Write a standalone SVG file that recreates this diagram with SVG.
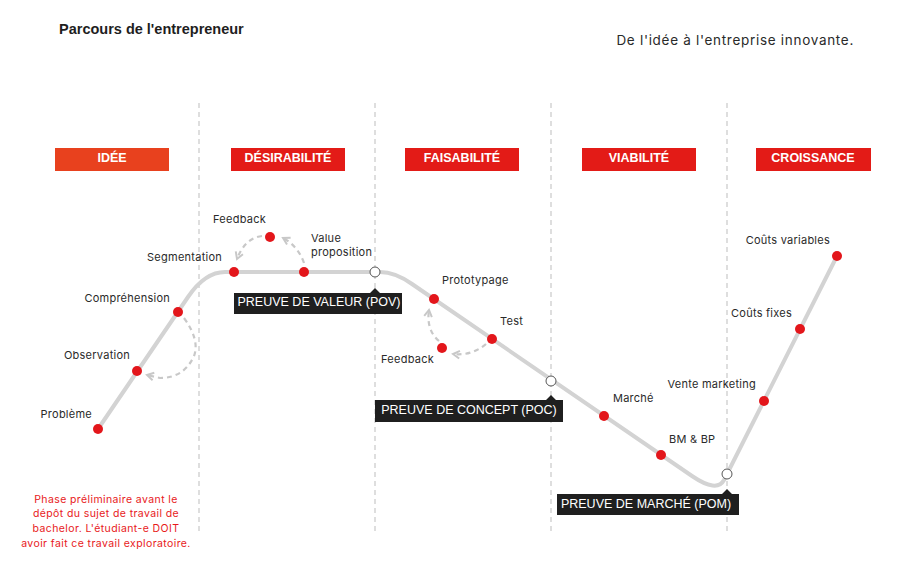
<svg xmlns="http://www.w3.org/2000/svg" width="904" height="564" viewBox="0 0 904 564">
<style>
text{font-family:"Liberation Sans",Arial,sans-serif;}
.sep{stroke:#BDBDBD;stroke-width:1;stroke-dasharray:5 4;fill:none}
.hdr{fill:#E31B17}
.hdrt{fill:#fff;font-size:12.5px;font-weight:bold;text-anchor:middle}
.track{stroke:#D3D3D3;stroke-width:4;fill:none;stroke-linecap:round;stroke-linejoin:round}
.loop{stroke:#C8C8C8;stroke-width:2.2;stroke-dasharray:5 4;fill:none}
.dot{fill:#E3161B}
.ms{fill:#fff;stroke:#555;stroke-width:1}
.lbl{fill:#2A2A2A;font-size:11px;letter-spacing:0.25px;font-family:Inter,"Liberation Sans",sans-serif}
.tag{fill:#1F1F1F}
.tagt{fill:#fff;font-size:12.5px;text-anchor:middle}
.note{fill:#E8191B;font-size:10.5px;letter-spacing:0.4px;text-anchor:middle;font-family:Inter,"Liberation Sans",sans-serif}
</style>
<defs>
<marker id="chev2" viewBox="0 0 10 10" refX="7" refY="5" markerWidth="11" markerHeight="11" orient="auto" markerUnits="userSpaceOnUse">
<path d="M1,1.5 L7,5 L1,8.5" fill="none" stroke="#C8C8C8" stroke-width="1.8"/>
</marker>
</defs>
<rect width="904" height="564" fill="#fff"/>
<text x="59" y="34" style="font-size:14.5px;font-weight:bold;fill:#1E1E1E">Parcours de l'entrepreneur</text>
<text x="854" y="45" style="font-size:13.5px;letter-spacing:0.7px;fill:#2A2A2A;text-anchor:end;font-family:Inter,'Liberation Sans',sans-serif">De l'idée à l'entreprise innovante.</text>

<g id="separators">
<line class="sep" x1="199" y1="103" x2="199" y2="533"/>
<line class="sep" x1="375" y1="103" x2="375" y2="533"/>
<line class="sep" x1="551" y1="103" x2="551" y2="533"/>
<line class="sep" x1="727" y1="103" x2="727" y2="533"/>
</g>

<g id="phase-idee"><rect x="55" y="148" width="114" height="23" fill="#E8411E"/><text class="hdrt" x="112" y="162">IDÉE</text></g>
<g id="phase-desirabilite"><rect class="hdr" x="231" y="148" width="114" height="23"/><text class="hdrt" x="288" y="162">DÉSIRABILITÉ</text></g>
<g id="phase-faisabilite"><rect class="hdr" x="405" y="148" width="114" height="23"/><text class="hdrt" x="462" y="162">FAISABILITÉ</text></g>
<g id="phase-viabilite"><rect class="hdr" x="582" y="148" width="114" height="23"/><text class="hdrt" x="639" y="162">VIABILITÉ</text></g>
<g id="phase-croissance"><rect class="hdr" x="756" y="148" width="115" height="23"/><text class="hdrt" x="813" y="162">CROISSANCE</text></g>

<g id="connectors">
<path class="track" d="M98,429 L188,297 Q205,272 225,272 L380,272 Q395,272 412,284 L692,476 Q717,493 724,480 L837,256"/>
<path class="loop" marker-end="url(#chev2)" d="M184,318 Q200,340 194,356 Q184,378 160,378 L147,375"/>
<path class="loop" marker-end="url(#chev2)" d="M304,263 Q298,246 283,238"/>
<path class="loop" marker-end="url(#chev2)" d="M262,236 Q245,238 237,259"/>
<path class="loop" marker-end="url(#chev2)" d="M486,344 Q472,356 453,354"/>
<path class="loop" marker-end="url(#chev2)" d="M439,341 Q426,330 429,310"/>
</g>

<g id="n-probleme"><circle class="dot" cx="98" cy="429" r="5"/><text class="lbl" x="92" y="418" text-anchor="end">Problème</text></g>
<g id="n-observation"><circle class="dot" cx="137" cy="371" r="5"/><text class="lbl" x="130" y="359" text-anchor="end">Observation</text></g>
<g id="n-comprehension"><circle class="dot" cx="178" cy="312" r="5"/><text class="lbl" x="170" y="302" text-anchor="end">Compréhension</text></g>
<g id="n-segmentation"><circle class="dot" cx="234" cy="272" r="5"/><text class="lbl" x="222" y="261" text-anchor="end">Segmentation</text></g>
<g id="n-feedback1"><circle class="dot" cx="270" cy="237" r="5"/><text class="lbl" x="266" y="223" text-anchor="end">Feedback</text></g>
<g id="n-value"><circle class="dot" cx="304" cy="272" r="5"/><text class="lbl" x="311" y="242">Value</text><text class="lbl" x="311" y="256">proposition</text></g>
<g id="n-prototypage"><circle class="dot" cx="434" cy="299" r="5"/><text class="lbl" x="442" y="284">Prototypage</text></g>
<g id="n-test"><circle class="dot" cx="492" cy="339" r="5"/><text class="lbl" x="500" y="325">Test</text></g>
<g id="n-feedback2"><circle class="dot" cx="442" cy="348" r="5"/><text class="lbl" x="434" y="363" text-anchor="end">Feedback</text></g>
<g id="n-marche"><circle class="dot" cx="604" cy="416" r="5"/><text class="lbl" x="613" y="402">Marché</text></g>
<g id="n-bmbp"><circle class="dot" cx="661" cy="455" r="5"/><text class="lbl" x="669" y="443">BM &amp; BP</text></g>
<g id="n-vente"><circle class="dot" cx="764" cy="401" r="5"/><text class="lbl" x="756" y="388" text-anchor="end">Vente marketing</text></g>
<g id="n-couts-fixes"><circle class="dot" cx="800" cy="329" r="5"/><text class="lbl" x="792" y="317" text-anchor="end">Coûts fixes</text></g>
<g id="n-couts-variables"><circle class="dot" cx="837" cy="256" r="5"/><text class="lbl" x="830" y="244" text-anchor="end">Coûts variables</text></g>

<g id="m-pov"><circle class="ms" cx="375" cy="272" r="5"/><path class="tag" d="M234,293 H370 L375,288 L380,293 H402 V314 H234 Z"/><text class="tagt" x="319" y="306">PREUVE DE VALEUR (POV)</text></g>
<g id="m-poc"><circle class="ms" cx="551" cy="381" r="5"/><path class="tag" d="M375,400 H546 L551,395 L556,400 H563 V422 H375 Z"/><text class="tagt" x="469" y="414">PREUVE DE CONCEPT (POC)</text></g>
<g id="m-pom"><circle class="ms" cx="727" cy="474" r="5"/><path class="tag" d="M557,494 H722 L727,489 L732,494 H739 V515 H557 Z"/><text class="tagt" x="646" y="508">PREUVE DE MARCHÉ (POM)</text></g>

<g id="note">
<text class="note" x="106" y="503">Phase préliminaire avant le</text>
<text class="note" x="106" y="517">dépôt du sujet de travail de</text>
<text class="note" x="106" y="532">bachelor. L'étudiant-e DOIT</text>
<text class="note" x="106" y="547">avoir fait ce travail exploratoire.</text>
</g>
</svg>
